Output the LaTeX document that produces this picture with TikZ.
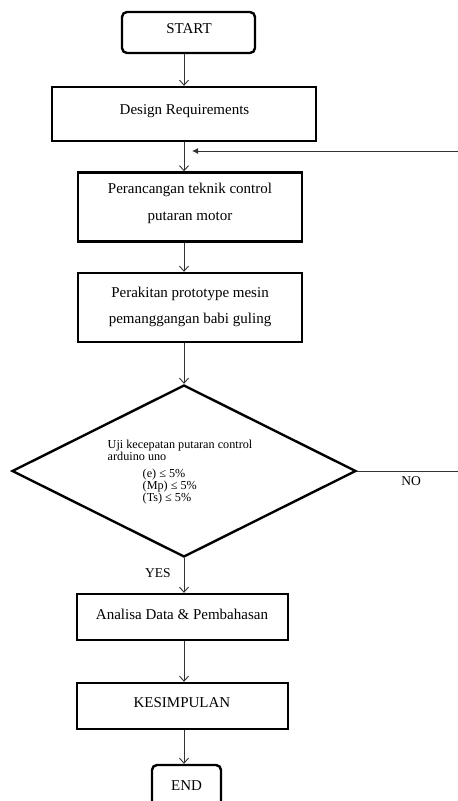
\documentclass[tikz,border=0pt]{standalone}
\usepackage{fontspec}
\setmainfont{Liberation Serif}
\usetikzlibrary{arrows.meta,shapes.geometric}
\begin{document}
\begin{tikzpicture}[x=1pt,y=-1pt,
  box/.style={draw=black,line width=2.4pt,fill=white,inner sep=0pt},
  rbox/.style={box,rounded corners=5pt},
  txt/.style={inner sep=0pt,align=center,font=\fontsize{15}{26.5}\selectfont},
  conn/.style={draw=black!80,line width=0.9pt,-{Straight Barb[length=5pt,width=9pt]}},
  plain/.style={draw=black!80,line width=0.9pt},
  lbl/.style={inner sep=0pt,font=\fontsize{13.5}{15}\selectfont}]
\useasboundingbox (0,0) rectangle (458,801);
\clip (0,0) rectangle (458,801);
\fill[white] (0,0) rectangle (458,801);
% boxes
\node[rbox,minimum width=133pt,minimum height=41pt] (start) at (188.5,32.5) {};
\node[box,minimum width=264pt,minimum height=54pt] (design) at (184,114) {};
\node[box,minimum width=224pt,minimum height=69pt] (ranc) at (190,207) {};
\node[box,minimum width=224pt,minimum height=69pt] (rakit) at (190,307.5) {};
\node[diamond,draw=black,line width=2.4pt,minimum width=344pt,minimum height=172pt,inner sep=0pt] (dia) at (184,471) {};
\node[box,minimum width=211pt,minimum height=46pt] (anal) at (182.5,617) {};
\node[box,minimum width=211pt,minimum height=46pt] (kes) at (182.5,706) {};
\node[rbox,minimum width=69pt,minimum height=46pt] (end) at (186.5,788) {};
% texts
\node[txt] (startT) at (189,29) {START};
\node[txt] (designT) at (184.5,111) {Design Requirements};
\node[txt] (rancT) at (190,203.5) {Perancangan teknik control\\ putaran motor};
\node[txt] (rakitT) at (190,307) {Perakitan prototype mesin\\ pemanggangan babi guling};
\node[inner sep=0pt,anchor=north west,align=left,font=\fontsize{12.2}{10.5}\selectfont] (diaT) at (107.5,439.5) {Uji kecepatan putaran control\\ arduino uno\\[7pt] \hspace*{35pt}(e) ≤ 5\%\\ \hspace*{35pt}(Mp) ≤ 5\%\\ \hspace*{35pt}(Ts) ≤ 5\%};
\node[txt] (analT) at (182,614) {Analisa Data \& Pembahasan};
\node[txt] (kesT) at (182,703) {KESIMPULAN};
\node[txt] (endT) at (186.5,786) {END};
\node[lbl] (yes) at (158,573) {YES};
\node[lbl] (no) at (411,481) {NO};
\coordinate (fbstart) at (458,151);
\coordinate (fbend) at (192,151);
\coordinate (noend) at (458,471);
% connectors
\draw[conn] (start.south -| dia.north) -- (design.north -| dia.north);
\draw[conn] (design.south -| dia.north) -- (ranc.north -| dia.north);
\draw[conn] (ranc.south -| dia.north) -- (rakit.north -| dia.north);
\draw[conn] (rakit.south -| dia.north) -- (dia.north);
\draw[conn] (dia.south) -- (anal.north -| dia.south);
\draw[conn] (anal.south -| dia.south) -- (kes.north -| dia.south);
\draw[conn] (kes.south -| dia.south) -- (end.north -| dia.south);
\draw[plain,-{Latex[length=6pt,width=6pt]}] (fbstart) -- (fbend);
\draw[plain] (dia.east) -- (noend);
\end{tikzpicture}
\end{document}
